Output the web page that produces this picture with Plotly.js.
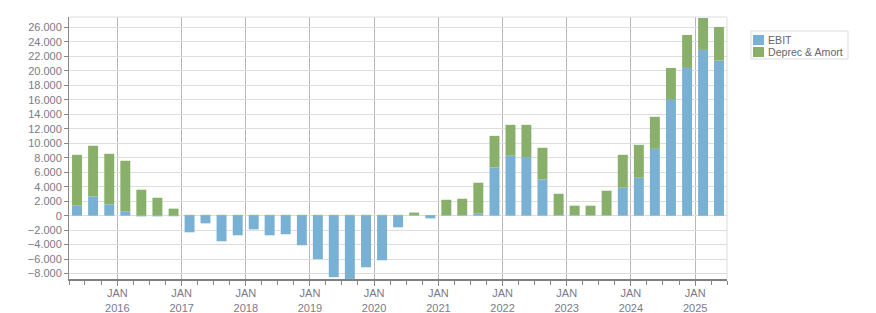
<!DOCTYPE html>
<html>
<head>
<meta charset="utf-8">
<script src="https://cdn.plot.ly/plotly-3.0.1.min.js"></script>
<style>
  html, body { margin: 0; padding: 0; background: #ffffff; }
  #chart { width: 876px; height: 313px; }
</style>
</head>
<body>
<div id="chart"></div>
<script>
// Quarter start dates (bars are centred on each quarter)
const quarters = [
  '2015-04-01','2015-07-01','2015-10-01',
  '2016-01-01','2016-04-01','2016-07-01','2016-10-01',
  '2017-01-01','2017-04-01','2017-07-01','2017-10-01',
  '2018-01-01','2018-04-01','2018-07-01','2018-10-01',
  '2019-01-01','2019-04-01','2019-07-01','2019-10-01',
  '2020-01-01','2020-04-01','2020-07-01','2020-10-01',
  '2021-01-01','2021-04-01','2021-07-01','2021-10-01',
  '2022-01-01','2022-04-01','2022-07-01','2022-10-01',
  '2023-01-01','2023-04-01','2023-07-01','2023-10-01',
  '2024-01-01','2024-04-01','2024-07-01','2024-10-01',
  '2025-01-01','2025-04-01'
];

const ebit = [
  1380, 2660, 1560,
  550, -100, -100, -80,
  -2300, -1060, -3540, -2710,
  -1890, -2710, -2570, -4090,
  -6000, -8500, -8740, -7130,
  -6160, -1610, 100, -370,
  80, 80, 280, 6670,
  8280, 8090, 5010, 100,
  50, 50, 50, 3860,
  5240, 9240, 16000, 20410,
  22900, 21420
];

const deprecAmort = [
  7030, 7000, 6990,
  7040, 3590, 2480, 970,
  120, 120, 120, 120,
  120, 120, 120, 120,
  120, 120, 120, 120,
  120, 120, 330, 100,
  2120, 2260, 4270, 4360,
  4270, 4460, 4370, 2930,
  1330, 1330, 3400, 4550,
  4550, 4420, 4410, 4560,
  4410, 4650
];

const yearTickVals = ['2016-01-01','2017-01-01','2018-01-01','2019-01-01','2020-01-01',
                      '2021-01-01','2022-01-01','2023-01-01','2024-01-01','2025-01-01'];
const yearTickText = ['JAN<br>2016','JAN<br>2017','JAN<br>2018','JAN<br>2019','JAN<br>2020',
                      'JAN<br>2021','JAN<br>2022','JAN<br>2023','JAN<br>2024','JAN<br>2025'];

const seriesNames = ['EBIT', 'Deprec & Amort'];
const colors = ['#78b1d3', '#89b06a'];

const fontFamily = 'Liberation Sans, Arial, sans-serif';
const tickFont = { family: fontFamily, size: 11, color: '#7a7a8a' };

const traces = [
  {
    type: 'bar', name: seriesNames[0], x: quarters, y: ebit,
    xperiod: 'M3', xperiodalignment: 'middle',
    marker: { color: colors[0], line: { width: 0 } }
  },
  {
    type: 'bar', name: seriesNames[1], x: quarters, y: deprecAmort,
    xperiod: 'M3', xperiodalignment: 'middle',
    marker: { color: colors[1], line: { width: 0 } }
  }
];

// Plot area in pixels: x 69..727, y 17..279
const PL = 69, PR = 727, PT = 17, PB = 279;
const px = v => (v - PL) / (PR - PL);
const py = v => (PB - v) / (PB - PT);

const legendShapes = [
  { type: 'rect', xref: 'paper', yref: 'paper', x0: px(751), x1: px(848), y0: py(59), y1: py(31),
    line: { color: '#dcdcdc', width: 1 }, fillcolor: '#ffffff' },
  { type: 'rect', xref: 'paper', yref: 'paper', x0: px(753), x1: px(764), y0: py(45), y1: py(35),
    line: { width: 0 }, fillcolor: colors[0] },
  { type: 'rect', xref: 'paper', yref: 'paper', x0: px(753), x1: px(764), y0: py(57), y1: py(47),
    line: { width: 0 }, fillcolor: colors[1] }
];

const legendAnnotations = [
  { xref: 'paper', yref: 'paper', x: px(766), y: py(40), xanchor: 'left', yanchor: 'middle',
    text: seriesNames[0], showarrow: false, font: { family: fontFamily, size: 10.6, color: '#666666' } },
  { xref: 'paper', yref: 'paper', x: px(766), y: py(52), xanchor: 'left', yanchor: 'middle',
    text: seriesNames[1], showarrow: false, font: { family: fontFamily, size: 10.6, color: '#666666' } }
];

const layout = {
  width: 876, height: 313,
  margin: { l: PL, r: 876 - PR, t: PT, b: 313 - PB, autoexpand: false },
  paper_bgcolor: '#ffffff', plot_bgcolor: '#ffffff',
  barmode: 'relative',
  bargap: 0.375,
  separators: ',.',
  showlegend: false,
  xaxis: {
    type: 'date',
    range: ['2015-04-01', '2025-07-01'],
    tickmode: 'array', tickvals: yearTickVals, ticktext: yearTickText,
    ticks: 'outside', ticklen: 5, tickcolor: '#888888', tickwidth: 1,
    ticklabelstandoff: -2,
    minor: { dtick: 'M3', tick0: '2015-04-01', ticks: 'outside', ticklen: 4, tickcolor: '#888888', showgrid: false },
    showgrid: true, gridcolor: '#b8b8b8', gridwidth: 1,
    showline: true, linecolor: '#808080', linewidth: 2,
    zeroline: false,
    automargin: false,
    tickfont: tickFont,
    fixedrange: true
  },
  yaxis: {
    range: [-8750, 27450],
    tickmode: 'linear', tick0: 0, dtick: 2000,
    tickformat: ',d',
    ticks: 'outside', ticklen: 4, tickcolor: '#888888',
    showgrid: true, gridcolor: '#dddddd', gridwidth: 1,
    showline: true, linecolor: '#888888', linewidth: 1,
    zeroline: false,
    automargin: false,
    tickfont: tickFont,
    fixedrange: true
  },
  shapes: [
    { type: 'line', xref: 'paper', yref: 'paper', x0: 0, x1: 1, y0: 1, y1: 1, line: { color: '#dddddd', width: 1 } },
    { type: 'line', xref: 'paper', yref: 'paper', x0: 1, x1: 1, y0: 0, y1: 1, line: { color: '#dddddd', width: 1 } }
  ].concat(legendShapes),
  annotations: legendAnnotations
};

Plotly.newPlot('chart', traces, layout, { displayModeBar: false, staticPlot: true });
</script>
</body>
</html>
